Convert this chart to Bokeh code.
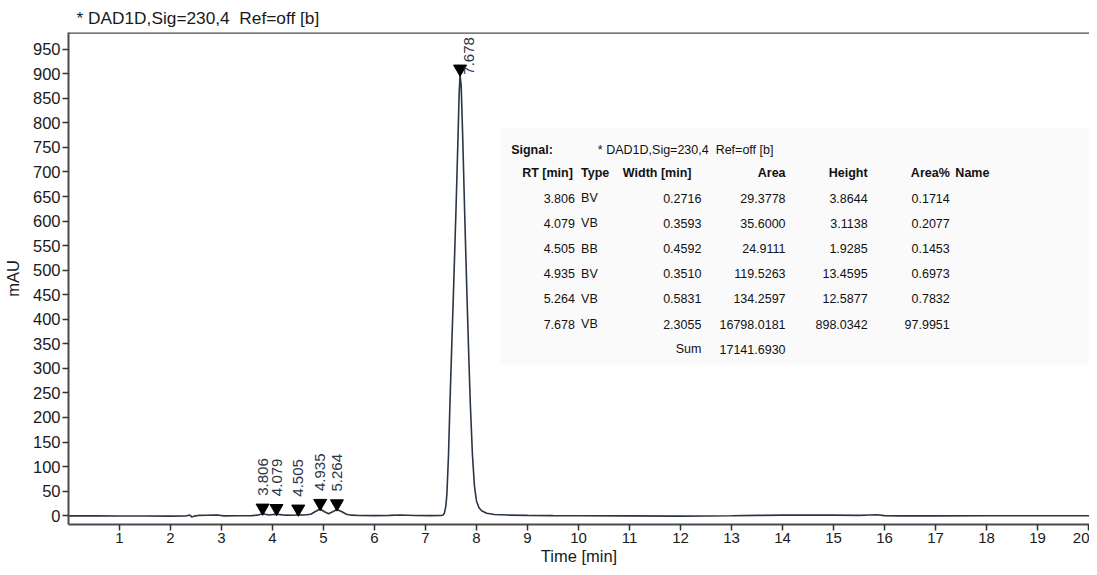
import math
from bokeh.plotting import figure
from bokeh.models import Range1d, FixedTicker, Span
from bokeh.core.properties import value
from bokeh.embed import file_html
from bokeh.resources import INLINE

# ---------------- data ----------------
signal_name = "* DAD1D,Sig=230,4 \u00a0Ref=off [b]"

time_min = [0.0, 0.5, 1.0, 1.5, 2.0, 2.3, 2.38, 2.42, 2.46, 2.55, 2.7, 2.85, 2.95, 3.05,
            3.3, 3.6, 3.7, 3.806, 3.93, 4.079, 4.25, 4.4, 4.505, 4.62, 4.75, 4.85, 4.935,
            5.02, 5.1, 5.18, 5.264, 5.36, 5.45, 5.55, 5.7, 6.0, 6.3, 6.5, 6.8, 7.1, 7.3,
            7.34, 7.37, 7.40, 7.42, 7.45, 7.48, 7.51, 7.55, 7.60, 7.64, 7.66, 7.678, 7.70,
            7.73, 7.77, 7.81, 7.85, 7.88, 7.92, 7.96, 8.00, 8.05, 8.10, 8.20, 8.35, 8.6,
            9.0, 9.5, 10.0, 11.0, 12.0, 12.5, 13.0, 13.5, 14.0, 14.5, 15.0, 15.5, 15.7,
            15.85, 16.0, 16.3, 17.0, 18.0, 19.0, 20.0, 20.2]
signal_mau = [-0.5, -0.5, -0.7, -0.8, -1.0, -0.8, 1.5, -3.0, -1.0, 0.5, 0.8, 1.5, 1.0, -0.5,
              -0.3, 0.0, 1.0, 3.86, 1.5, 3.11, 1.0, 0.8, 1.93, 1.2, 3.0, 9.0, 13.46,
              8.0, 4.0, 8.0, 12.59, 8.0, 3.0, 1.0, 0.3, 0.0, 0.5, 1.2, 0.3, 0.0, 0.2,
              1.0, 5.0, 20.0, 45.0, 120.0, 230.0, 330.0, 460.0, 630.0, 780.0, 860.0, 898.03, 875.0,
              770.0, 610.0, 460.0, 320.0, 225.0, 125.0, 60.0, 30.0, 16.0, 10.0, 5.0, 2.5, 1.2,
              0.5, 0.0, -0.3, -0.5, -1.0, -0.8, -0.3, 0.5, 1.0, 1.2, 1.0, 0.5, 1.5,
              1.8, 0.0, -0.5, -0.5, -0.3, -0.3, -0.3, -0.3]

peak_rt = [3.806, 4.079, 4.505, 4.935, 5.264, 7.678]
peak_type = ["BV", "VB", "BB", "BV", "VB", "VB"]
peak_width = [0.2716, 0.3593, 0.4592, 0.3510, 0.5831, 2.3055]
peak_area = [29.3778, 35.6000, 24.9111, 119.5263, 134.2597, 16798.0181]
peak_height = [3.8644, 3.1138, 1.9285, 13.4595, 12.5877, 898.0342]
peak_area_pct = [0.1714, 0.2077, 0.1453, 0.6973, 0.7832, 97.9951]
area_sum = 17141.6930

x_ticks = list(range(1, 21))
y_ticks = list(range(0, 951, 50))

# ---------------- style / layout ----------------
FONT = "Liberation Sans"
INK = "#1a1a1a"
TRACE = "#2a3645"
FRAME = "#4a4a4a"
Y_MIN, Y_MAX = -18.0, 984.0

p = figure(width=1089, height=567, output_backend="svg", toolbar_location=None,
           x_range=Range1d(0, 20.02), y_range=Range1d(Y_MIN, Y_MAX),
           min_border_left=61, min_border_right=0, min_border_top=28, min_border_bottom=0)

p.title.text = signal_name
p.title.align = "left"
p.title.offset = 8
p.title.text_font = FONT
p.title.text_font_size = "17.3px"
p.title.text_font_style = "normal"
p.title.text_color = INK
p.title.standoff = 10

p.grid.visible = False
p.outline_line_color = None
p.background_fill_color = "white"
p.border_fill_color = "white"
p.add_layout(Span(location=Y_MAX, dimension="width", line_color=FRAME, line_width=2.5))

for ax in (p.xaxis[0], p.yaxis[0]):
    ax.axis_line_color = FRAME
    ax.axis_line_width = 2
    ax.major_tick_line_color = "#333333"
    ax.major_tick_line_width = 1.5
    ax.major_tick_in = 0
    ax.major_tick_out = 6
    ax.minor_tick_line_color = None
    ax.major_label_text_font = FONT
    ax.major_label_text_color = INK
    ax.axis_label_text_font = FONT
    ax.axis_label_text_font_style = "normal"
    ax.axis_label_text_color = INK
    ax.axis_label_text_font_size = "16.5px"

p.xaxis.ticker = FixedTicker(ticks=x_ticks)
p.yaxis.ticker = FixedTicker(ticks=y_ticks)
p.xaxis.major_label_text_font_size = "15px"
p.yaxis.major_label_text_font_size = "16.5px"
p.xaxis.major_label_standoff = 2
p.yaxis.major_label_standoff = 2
p.xaxis.axis_label = "Time [min]"
p.yaxis.axis_label = "mAU"
p.xaxis.axis_label_standoff = 1
p.yaxis.axis_label_standoff = 8

# table background
p.quad(left=8.46, right=20.2, top=790, bottom=308, fill_color="#fafafa", line_color=None)

# trace
p.line(time_min, signal_mau, line_color=TRACE, line_width=1.6)

# peak markers and labels
p.scatter(peak_rt, [h + 12 for h in peak_height], marker="inverted_triangle", size=13,
          fill_color="black", line_color="black")
small = [i for i, h in enumerate(peak_height) if h < 100]
big = [i for i, h in enumerate(peak_height) if h >= 100]
p.text(x=[peak_rt[i] for i in small], y=[peak_height[i] for i in small],
       text=[f"{peak_rt[i]:.3f}" for i in small], angle=math.pi / 2,
       x_offset=0, y_offset=-18, text_align="left", text_baseline="middle",
       text_font=value(FONT), text_font_size="15px", text_color="#2a3645")
p.text(x=[peak_rt[i] for i in big], y=[peak_height[i] for i in big],
       text=[f"{peak_rt[i]:.3f}" for i in big], angle=math.pi / 2,
       x_offset=9, y_offset=0, text_align="left", text_baseline="middle",
       text_font=value(FONT), text_font_size="15px", text_color="#2a3645")

# table text
TS = "12.5px"
ROW0 = 646.3
STEP = 51.2
rows_y = [ROW0 - i * STEP for i in range(len(peak_rt))]


def col(x, y, texts, align, bold=False):
    p.text(x=[x] * len(texts), y=y, text=texts,
           text_align=align, text_baseline="middle", text_font=value(FONT),
           text_font_size=TS, text_font_style="bold" if bold else "normal", text_color="#111111")


col(8.68, [745.0], ["Signal:"], "left", bold=True)
col(10.38, [745.0], [signal_name], "left")
HY = [697.6]
col(9.89, HY, ["RT [min]"], "right", bold=True)
col(10.05, HY, ["Type"], "left", bold=True)
col(10.87, HY, ["Width [min]"], "left", bold=True)
col(14.06, HY, ["Area"], "right", bold=True)
col(15.67, HY, ["Height"], "right", bold=True)
col(17.28, HY, ["Area%"], "right", bold=True)
col(17.39, HY, ["Name"], "left", bold=True)

col(9.93, rows_y, [f"{v:.3f}" for v in peak_rt], "right")
col(10.05, rows_y, peak_type, "left")
col(12.41, rows_y, [f"{v:.4f}" for v in peak_width], "right")
col(14.06, rows_y, [f"{v:.4f}" for v in peak_area], "right")
col(15.67, rows_y, [f"{v:.4f}" for v in peak_height], "right")
col(17.28, rows_y, [f"{v:.4f}" for v in peak_area_pct], "right")
SUMY = [ROW0 - len(peak_rt) * STEP]
col(12.41, SUMY, ["Sum"], "right")
col(14.06, SUMY, [f"{area_sum:.4f}"], "right")

open("out.html", "w").write(file_html(p, INLINE))
